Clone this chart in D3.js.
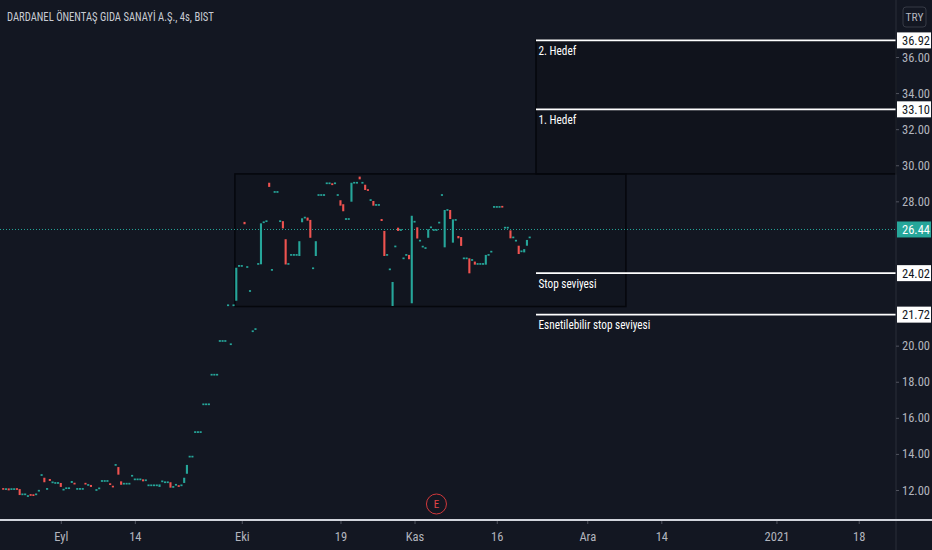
<!DOCTYPE html>
<html><head><meta charset="utf-8">
<script src="https://cdn.jsdelivr.net/npm/d3@7/dist/d3.min.js"></script>
<style>
html,body{margin:0;padding:0;background:#131722;}
svg{display:block;}
text{font-family:'Liberation Sans Narrow','Roboto Condensed','DejaVu Sans Condensed',sans-serif;}
</style></head>
<body>
<svg id="c" width="932" height="550"></svg>
<script>
const title = "DARDANEL ÖNENTAŞ GIDA SANAYİ A.Ş., 4s, BIST";
const currency = "TRY";
// 4-hour periods (slot index, 0 = first period of 1 Sep 2020), open, close
const bars = [
[-21,12.08,12.04],[-20,12.05,12.05],[-19,12.09,11.98],[-18,12.05,12.05],[-17,12.05,12.05],
[-16,12.07,12.04],[-15,12.05,11.72],[-14,11.76,11.76],[-13,11.76,11.76],[-12,11.63,11.70],
[-11,11.74,11.71],[-10,11.73,11.70],[-9,11.72,11.80],[-8,11.96,11.96],[-7,12.83,12.83],
[-6,12.68,12.43],[-5,12.06,12.06],[-4,12.61,12.50],[-3,12.39,12.46],[-2,12.39,12.39],
[-1,12.39,12.39],[0,12.39,12.17],[1,12.02,12.02],[2,12.10,12.10],[3,12.10,12.10],
[4,12.39,12.50],[5,12.40,12.31],[6,12.06,12.06],[7,12.06,12.06],[8,12.06,12.06],
[9,12.39,12.31],[10,12.28,12.28],[11,12.28,12.17],
[13,12.00,12.00],[14,12.09,12.09],[15,12.50,12.50],[16,12.50,12.50],[17,12.50,12.50],
[18,12.37,12.28],[19,12.20,12.18],[20,13.39,13.39],[21,13.27,12.85],[22,12.48,12.29],
[23,12.35,12.35],[24,12.35,12.35],[25,12.35,12.35],[26,12.79,12.79],[27,12.59,12.59],
[28,12.59,12.59],[29,12.59,12.59],[30,12.59,12.48],[31,12.54,12.54],[32,12.26,12.26],
[33,12.26,12.26],[34,12.26,12.26],[35,12.26,12.26],[36,12.17,12.31],[37,12.48,12.48],
[38,12.43,12.43],[39,12.43,12.43],[40,12.43,12.13],[41,12.17,12.17],[42,12.29,12.29],
[43,12.26,12.18],[44,12.26,12.26],[45,12.39,12.68],[46,12.90,13.39],[47,13.85,13.85],
[48,13.85,13.85],
[49,15.21,15.21],[50,15.21,15.21],[51,15.21,15.21],
[52,16.75,16.75],[53,16.75,16.75],[54,16.75,16.75],
[55,18.39,18.39],[56,18.39,18.39],[57,18.39,18.39],
[58,20.26,20.26],[59,20.26,20.26],[60,20.26,20.26],
[61,22.24,22.24],[62,20.08,20.08],[63,22.24,22.24],[64,22.49,24.32],[65,24.42,24.42],
[66,24.42,24.42],[67,26.86,26.73],[68,24.36,24.36],[69,23.03,23.03],[70,20.80,20.80],
[71,20.92,20.92],[72,24.53,24.53],[73,24.51,26.78],[74,26.84,26.84],[75,26.90,26.90],
[76,29.03,28.80],[77,24.20,24.20],[78,28.52,28.52],[79,28.52,28.52],[80,26.90,26.90],
[81,26.90,26.50],[82,25.90,24.50],[83,24.53,24.53],[84,25.03,25.03],[85,25.03,25.03],
[86,25.03,25.03],[87,24.97,25.79],[88,26.84,27.06],[89,27.10,27.10],[90,27.10,26.93],
[91,26.97,25.98],[92,24.29,24.29],[93,24.97,25.79],[94,28.35,28.35],[95,28.35,28.35],
[96,28.35,28.35],[97,29.00,29.00],[98,29.00,29.00],[99,29.00,28.90],[100,29.00,29.00],
[101,28.35,28.35],[102,28.06,27.76],[103,27.84,27.45],[104,27.02,27.02],[105,27.02,27.02],
[106,27.98,29.03],[107,29.03,29.03],[108,29.03,29.03],[109,29.37,29.22],[110,29.03,29.03],
[111,28.92,28.63],[112,28.67,28.58],[113,28.05,28.09],[114,28.02,27.76],[115,27.80,27.80],
[116,27.80,27.80],[117,27.02,26.91],[118,26.36,24.97],[119,25.03,25.03],[120,24.23,24.23],
[121,22.20,23.53],[122,25.50,25.50],[123,26.54,26.36],[124,26.41,26.41],[125,24.84,24.84],
[126,25.03,25.03],[127,25.03,24.79],[128,22.35,27.20],[129,26.87,26.87],[130,26.56,25.94],
[131,25.82,25.82],[132,25.49,25.49],[133,25.41,25.41],[134,25.98,26.45],[135,26.56,26.56],
[136,26.41,26.41],[137,26.41,26.41],[138,26.82,26.82],[139,28.35,28.35],[140,25.45,27.52],
[141,27.52,27.52],[142,27.52,27.02],[143,25.71,27.00],[144,26.97,26.97],[145,26.08,25.95],
[146,26.02,25.53],[147,24.84,24.84],[148,24.84,24.84],[149,24.84,24.01],[150,24.75,24.75],
[151,24.66,24.49],[152,24.53,24.53],[153,24.53,24.53],[154,24.53,24.53],[155,24.49,25.03],
[156,25.03,25.03],[157,25.21,25.21],[158,27.69,27.69],[159,27.69,27.69],[160,27.69,27.69],
[161,27.71,27.69],[162,26.54,26.54],[163,26.54,26.54],[164,26.39,25.95],[165,26.00,26.00],
[166,25.82,25.82],[167,25.54,25.08],[168,25.23,25.23],[169,25.17,25.35],[170,25.54,25.86],
[171,26.00,26.00]
];
// visible price scale labels (22, 24 and 26 sit under the marker labels)
const priceTicks = [12,14,16,18,20,28,30,32,34,36];
const timeTickSlots = [0,27,66,102,129,159,192,219,261,291];
const timeTickLabels = ["Eyl","14","Eki","19","Kas","16","Ara","14","2021","18"];
const levelPrices = [36.92, 33.10, 24.02, 21.72];
const levelLabels = ["2. Hedef","1. Hedef","Stop seviyesi","Esnetilebilir stop seviyesi"];
const levelStartSlot = 173.3;
const rangeBox = {slot0: 63.5, slot1: 206.1, top: 29.52, bottom: 22.17};
const targetBox = {slot0: 173.3, top: 36.92, bottom: 29.52};
const lastPrice = 26.44;
const earningsSlot = 137;

const W = 932, H = 550, axisX = 896, baseY = 520;
const svg = d3.select("#c");
const x = d3.scaleLinear().domain([0, 171]).range([60.8, 60.8 + 171*2.742]);
const y = d3.scaleLinear().domain([12, 36]).range([490, 57]);
const up = "#26a69a", down = "#ef5350";

svg.append("rect").attr("width",W).attr("height",H).attr("fill","#131722");

// boxes
svg.append("rect").attr("x",x(targetBox.slot0)).attr("y",y(targetBox.top))
  .attr("width",axisX - x(targetBox.slot0)).attr("height",y(targetBox.bottom)-y(targetBox.top))
  .attr("fill","rgba(0,0,0,0.15)").attr("stroke","#05070c").attr("stroke-width",1.5);
svg.append("rect").attr("x",x(rangeBox.slot0)).attr("y",y(rangeBox.top))
  .attr("width",x(rangeBox.slot1)-x(rangeBox.slot0)).attr("height",y(rangeBox.bottom)-y(rangeBox.top))
  .attr("fill","rgba(0,0,0,0.08)").attr("stroke","#05070c").attr("stroke-width",1.5);

// last price dotted line
svg.append("line").attr("x1",0).attr("x2",axisX).attr("y1",y(lastPrice)).attr("y2",y(lastPrice))
  .attr("stroke",up).attr("stroke-width",1).attr("stroke-dasharray","1,2");

// candles
const bw = 2.1;
svg.append("g").selectAll("rect").data(bars).join("rect")
  .attr("x", d => x(d[0]) - bw/2)
  .attr("y", d => { const t = y(Math.max(d[1],d[2])), b = y(Math.min(d[1],d[2])); return (b-t) < 1.7 ? (t+b)/2 - 0.85 : t; })
  .attr("width", bw)
  .attr("height", d => Math.max(1.7, y(Math.min(d[1],d[2])) - y(Math.max(d[1],d[2]))))
  .attr("fill", d => d[2] >= d[1] ? up : down);

// levels
const lv = svg.append("g");
levelPrices.forEach((p,i) => {
  lv.append("line").attr("x1",x(levelStartSlot)).attr("x2",axisX).attr("y1",y(p)).attr("y2",y(p))
    .attr("stroke","#ffffff").attr("stroke-width",1.8);
  lv.append("text").attr("transform",`translate(${x(levelStartSlot)+2.5},${y(p)+14.5}) scale(0.9,1)`)
    .attr("fill","#ffffff").attr("font-size",12.5).text(levelLabels[i]);
});

// title
svg.append("text").attr("transform","translate(7,20.5) scale(0.85,1)").attr("fill","#c8cbd3").attr("font-size",12.5).text(title);

// right axis
svg.append("line").attr("x1",axisX).attr("x2",axisX).attr("y1",0).attr("y2",H).attr("stroke","#2a2e39");
const ya = svg.append("g").attr("transform",`translate(${axisX},0)`)
  .call(d3.axisRight(y).tickValues(priceTicks).tickFormat(d3.format(".2f")).tickSize(3).tickPadding(3));
ya.select(".domain").remove();
ya.selectAll("line").attr("stroke","#50535e");
ya.selectAll("text").attr("fill","#b2b5be").attr("font-size",12.5);

// axis labels for levels
levelPrices.forEach(p => {
  svg.append("rect").attr("x",axisX+1).attr("y",y(p)-8).attr("width",W-axisX-2).attr("height",16).attr("fill","#ffffff");
  svg.append("text").attr("x",axisX+6).attr("y",y(p)+4.5).attr("fill","#131722").attr("font-size",12.5).text(d3.format(".2f")(p));
});
svg.append("rect").attr("x",axisX+1).attr("y",y(lastPrice)-8).attr("width",W-axisX-2).attr("height",16).attr("fill",up);
svg.append("text").attr("x",axisX+6).attr("y",y(lastPrice)+4.5).attr("fill","#ffffff").attr("font-size",12.5).text(d3.format(".2f")(lastPrice));

// currency badge
svg.append("rect").attr("x",903).attr("y",7).attr("width",23).attr("height",20).attr("rx",3)
  .attr("fill","none").attr("stroke","#363a45");
svg.append("text").attr("x",914.5).attr("y",21).attr("text-anchor","middle").attr("fill","#b2b5be").attr("font-size",11.5).text(currency);

// bottom time axis
svg.append("line").attr("x1",0).attr("x2",W).attr("y1",baseY).attr("y2",baseY).attr("stroke","#d1d4dc").attr("stroke-width",2.2);
const xa = svg.append("g").attr("transform",`translate(0,${baseY+1})`)
  .call(d3.axisBottom(x).tickValues(timeTickSlots).tickFormat((d,i)=>timeTickLabels[i]).tickSize(3).tickPadding(8));
xa.select(".domain").remove();
xa.selectAll("line").attr("stroke","#50535e");
xa.selectAll("text").attr("fill","#b2b5be").attr("font-size",12.5);

// earnings marker
svg.append("circle").attr("cx",x(earningsSlot)).attr("cy",504).attr("r",10).attr("fill","none").attr("stroke","#d0383b").attr("stroke-width",1);
svg.append("text").attr("x",x(earningsSlot)).attr("y",508).attr("text-anchor","middle").attr("fill","#e04548").attr("font-size",11).text("E");
</script>
</body></html>
